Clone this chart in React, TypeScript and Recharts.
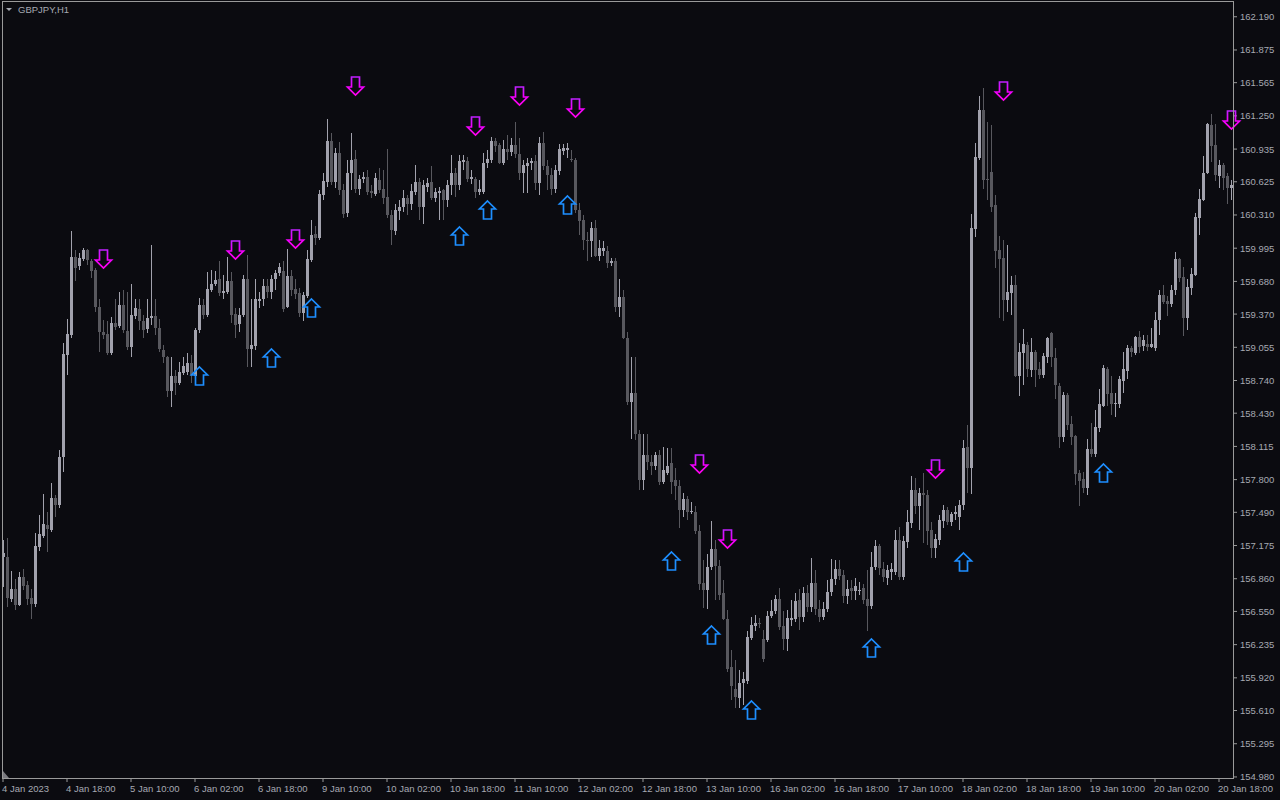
import React from 'react';
import { ComposedChart, Bar, Scatter, XAxis, YAxis } from 'recharts';

// GBPJPY H1, 4 Jan 02:00 -> 20 Jan 21:00 (308 bars)
const opens = [
  157.07, 157.07, 156.67, 156.76, 156.61, 156.88, 156.80, 156.68, 156.62, 157.16,
  157.27, 157.37, 157.32, 157.63, 157.56, 158.01, 158.98, 159.17, 159.91, 159.83,
  159.89, 159.98, 159.87, 159.79, 159.44, 159.20, 159.18, 159.00, 159.29, 159.26,
  159.46, 159.21, 159.06, 159.35, 159.42, 159.30, 159.23, 159.33, 159.35, 159.24,
  159.03, 158.96, 158.64, 158.78, 158.72, 158.81, 158.82, 158.91, 158.78, 159.22,
  159.46, 159.36, 159.60, 159.66, 159.70, 159.57, 159.58, 159.68, 159.37, 159.28,
  159.36, 159.70, 159.04, 159.07, 159.49, 159.51, 159.64, 159.58, 159.70, 159.76,
  159.78, 159.44, 159.73, 159.61, 159.57, 159.38, 159.54, 159.88, 160.13, 160.09,
  160.50, 160.62, 161.01, 160.62, 160.90, 160.55, 160.33, 160.71, 160.84, 160.56,
  160.65, 160.67, 160.54, 160.51, 160.64, 160.56, 160.48, 160.31, 160.16, 160.35,
  160.39, 160.47, 160.41, 160.53, 160.62, 160.39, 160.58, 160.62, 160.47, 160.52,
  160.55, 160.45, 160.59, 160.71, 160.59, 160.81, 160.82, 160.65, 160.65, 160.53,
  160.53, 160.80, 160.83, 161.01, 160.97, 160.80, 160.94, 160.91, 160.97, 160.89,
  160.71, 160.77, 160.80, 160.82, 160.61, 160.99, 160.77, 160.69, 160.56, 160.73,
  160.92, 160.93, 160.84, 160.83, 160.36, 160.26, 160.07, 160.06, 160.19, 159.92,
  159.97, 159.97, 159.85, 159.87, 159.44, 159.53, 159.14, 158.54, 158.62, 158.23,
  157.80, 158.03, 157.97, 157.93, 158.03, 157.78, 157.86, 157.96, 157.80, 157.74,
  157.51, 157.62, 157.49, 157.49, 157.31, 156.82, 156.75, 156.97, 157.14, 156.98,
  156.72, 156.48, 156.02, 155.81, 155.73, 155.87, 155.89, 156.30, 156.41, 156.44,
  156.29, 156.28, 156.51, 156.55, 156.67, 156.41, 156.29, 156.47, 156.48, 156.66,
  156.50, 156.72, 156.59, 156.82, 156.57, 156.50, 156.57, 156.73, 156.86, 156.95,
  156.90, 156.70, 156.77, 156.74, 156.74, 156.77, 156.67, 156.60, 156.97, 157.17,
  156.95, 156.87, 156.92, 156.92, 157.23, 156.88, 157.21, 157.39, 157.70, 157.55,
  157.67, 157.65, 157.32, 157.15, 157.23, 157.41, 157.51, 157.40, 157.47, 157.45,
  157.56, 158.11, 157.91, 160.18, 160.85, 161.31, 160.65, 160.72, 160.40, 159.98,
  159.90, 159.50, 159.57, 159.65, 158.78, 159.00, 159.08, 158.84, 159.01, 158.85,
  158.79, 158.96, 159.19, 158.95, 158.69, 158.20, 158.60, 158.33, 158.21, 157.86,
  157.81, 157.72, 158.09, 158.04, 158.29, 158.50, 158.85, 158.62, 158.52, 158.52,
  158.74, 158.83, 159.05, 159.00, 159.15, 159.07, 159.09, 159.06, 159.05, 159.31,
  159.55, 159.49, 159.47, 159.60, 159.89, 159.72, 159.33, 159.62, 159.74, 160.28,
  160.45, 160.71, 161.16, 160.97, 160.68, 160.78, 160.68, 160.57,
];

const closes = [
  157.10, 156.68, 156.76, 156.61, 156.88, 156.79, 156.67, 156.62, 157.17, 157.28,
  157.38, 157.33, 157.63, 157.56, 158.01, 158.99, 159.18, 159.91, 159.81, 159.90,
  159.98, 159.88, 159.78, 159.44, 159.20, 159.17, 159.00, 159.29, 159.25, 159.46,
  159.22, 159.06, 159.36, 159.43, 159.30, 159.22, 159.33, 159.35, 159.24, 159.04,
  158.96, 158.64, 158.78, 158.72, 158.82, 158.88, 158.91, 158.79, 159.22, 159.46,
  159.36, 159.61, 159.66, 159.69, 159.57, 159.59, 159.68, 159.36, 159.27, 159.36,
  159.70, 159.04, 159.08, 159.51, 159.51, 159.64, 159.58, 159.70, 159.76, 159.82,
  159.42, 159.73, 159.60, 159.56, 159.38, 159.55, 159.89, 160.12, 160.09, 160.51,
  160.63, 161.01, 160.62, 160.90, 160.55, 160.32, 160.71, 160.83, 160.56, 160.65,
  160.67, 160.53, 160.52, 160.66, 160.55, 160.47, 160.31, 160.17, 160.36, 160.39,
  160.47, 160.41, 160.54, 160.62, 160.39, 160.59, 160.61, 160.47, 160.53, 160.54,
  160.45, 160.59, 160.71, 160.59, 160.82, 160.83, 160.65, 160.67, 160.53, 160.56,
  160.80, 160.84, 161.01, 160.96, 160.80, 160.94, 160.91, 160.97, 160.89, 160.71,
  160.78, 160.80, 160.82, 160.61, 160.99, 160.77, 160.69, 160.56, 160.74, 160.94,
  160.95, 160.95, 160.83, 160.36, 160.25, 160.07, 160.06, 160.19, 159.92, 160.00,
  160.00, 159.85, 159.87, 159.44, 159.53, 159.14, 158.54, 158.62, 158.23, 157.80,
  158.03, 157.97, 157.93, 158.03, 157.78, 157.89, 157.93, 157.78, 157.74, 157.51,
  157.62, 157.49, 157.50, 157.31, 156.81, 156.75, 156.97, 157.14, 156.98, 156.71,
  156.48, 156.00, 155.84, 155.74, 155.87, 155.91, 156.31, 156.42, 156.44, 156.43,
  156.10, 156.51, 156.55, 156.67, 156.40, 156.29, 156.49, 156.49, 156.65, 156.50,
  156.72, 156.59, 156.82, 156.57, 156.50, 156.57, 156.73, 156.86, 156.95, 156.89,
  156.70, 156.76, 156.74, 156.79, 156.75, 156.66, 156.60, 156.97, 157.17, 156.96,
  156.88, 156.94, 156.95, 157.23, 156.88, 157.22, 157.40, 157.70, 157.55, 157.67,
  157.65, 157.31, 157.15, 157.24, 157.42, 157.51, 157.40, 157.47, 157.49, 157.56,
  158.10, 157.91, 160.19, 160.86, 161.31, 160.64, 160.64, 160.39, 159.97, 159.89,
  159.50, 159.58, 159.65, 158.78, 159.01, 159.09, 158.85, 159.01, 158.84, 158.79,
  158.97, 159.14, 158.96, 158.70, 158.20, 158.60, 158.32, 158.20, 157.85, 157.79,
  157.72, 158.09, 158.04, 158.30, 158.52, 158.86, 158.61, 158.52, 158.53, 158.75,
  158.85, 159.05, 159.01, 159.15, 159.06, 159.12, 159.06, 159.09, 159.31, 159.55,
  159.48, 159.47, 159.60, 159.89, 159.71, 159.33, 159.63, 159.75, 160.29, 160.46,
  160.71, 161.17, 160.96, 160.69, 160.78, 160.66, 160.57, 160.59,
];

const highs = [
  157.23, 157.25, 156.93, 156.86, 156.92, 156.95, 156.84, 156.76, 157.29, 157.46,
  157.66, 157.49, 157.77, 157.65, 158.08, 159.10, 159.32, 160.16, 159.98, 159.95,
  160.00, 159.99, 159.89, 159.81, 159.51, 159.31, 159.30, 159.34, 159.51, 159.58,
  159.60, 159.58, 159.66, 159.51, 159.51, 159.36, 159.51, 160.03, 159.51, 159.32,
  159.08, 158.97, 158.96, 158.84, 158.92, 158.96, 159.00, 158.98, 159.24, 159.52,
  159.51, 159.77, 159.79, 159.78, 159.87, 159.74, 159.91, 159.77, 159.43, 159.43,
  159.74, 159.93, 159.51, 159.70, 159.58, 159.70, 159.70, 159.74, 159.79, 159.85,
  159.87, 159.99, 159.79, 159.70, 159.62, 159.58, 159.98, 160.26, 160.21, 160.55,
  160.71, 161.22, 161.09, 160.95, 161.00, 160.60, 160.83, 161.09, 160.93, 160.69,
  160.72, 160.74, 160.59, 160.71, 160.76, 160.74, 160.94, 160.36, 160.41, 160.45,
  160.55, 160.50, 160.60, 160.78, 160.66, 160.64, 160.66, 160.77, 160.57, 160.58,
  160.56, 160.64, 160.88, 160.76, 160.88, 160.88, 160.86, 160.74, 160.67, 160.64,
  160.90, 160.93, 161.05, 161.04, 160.99, 161.02, 161.07, 161.04, 161.19, 161.04,
  160.83, 160.85, 160.85, 160.88, 161.05, 161.10, 160.83, 160.76, 160.78, 160.98,
  160.98, 160.99, 160.93, 160.85, 160.42, 160.31, 160.15, 160.24, 160.26, 160.07,
  160.06, 160.02, 159.90, 159.90, 159.70, 159.60, 159.20, 158.96, 158.96, 158.27,
  158.23, 158.23, 158.03, 158.06, 158.08, 158.11, 158.10, 158.10, 157.91, 157.80,
  157.67, 157.64, 157.59, 157.55, 157.37, 157.04, 157.09, 157.41, 157.23, 157.04,
  156.85, 156.56, 156.18, 156.09, 155.99, 155.98, 156.36, 156.50, 156.52, 156.49,
  156.37, 156.55, 156.66, 156.71, 156.77, 156.55, 156.56, 156.66, 156.72, 156.76,
  156.78, 156.80, 157.06, 156.94, 156.66, 156.64, 156.85, 157.05, 157.04, 157.04,
  156.94, 156.85, 156.85, 156.87, 156.83, 156.81, 156.94, 157.11, 157.23, 157.19,
  157.02, 156.99, 157.01, 157.32, 157.35, 157.27, 157.51, 157.83, 157.82, 157.72,
  157.86, 157.70, 157.40, 157.28, 157.46, 157.56, 157.54, 157.49, 157.55, 157.61,
  158.18, 158.32, 160.32, 160.99, 161.44, 161.51, 161.19, 161.16, 160.50, 160.11,
  160.07, 160.03, 159.73, 159.74, 159.10, 159.23, 159.11, 159.14, 159.03, 158.92,
  159.00, 159.15, 159.20, 159.05, 158.72, 158.63, 158.62, 158.40, 158.22, 157.89,
  157.87, 158.19, 158.34, 158.46, 158.66, 158.89, 158.87, 158.78, 158.62, 158.78,
  159.01, 159.08, 159.07, 159.16, 159.21, 159.17, 159.17, 159.24, 159.39, 159.60,
  159.65, 159.54, 159.65, 159.96, 159.90, 159.82, 159.70, 159.81, 160.33, 160.56,
  160.87, 161.18, 161.27, 161.17, 160.83, 160.80, 160.71, 160.64,
];

const lows = [
  156.78, 156.59, 156.64, 156.56, 156.60, 156.75, 156.61, 156.48, 156.59, 157.12,
  157.25, 157.11, 157.30, 157.45, 157.53, 157.87, 158.79, 159.14, 159.68, 159.79,
  159.87, 159.84, 159.71, 159.39, 159.01, 159.13, 158.98, 158.98, 159.22, 159.24,
  159.19, 159.03, 158.96, 159.32, 159.22, 159.14, 159.19, 159.27, 159.17, 159.01,
  158.91, 158.58, 158.49, 158.60, 158.70, 158.79, 158.79, 158.72, 158.75, 159.19,
  159.32, 159.34, 159.58, 159.64, 159.54, 159.51, 159.56, 159.29, 159.14, 159.20,
  159.34, 158.87, 158.87, 159.03, 159.43, 159.45, 159.52, 159.51, 159.60, 159.73,
  159.39, 159.43, 159.54, 159.51, 159.34, 159.30, 159.52, 159.86, 160.03, 160.07,
  160.45, 160.58, 160.59, 160.57, 160.50, 160.28, 160.29, 160.55, 160.52, 160.50,
  160.61, 160.50, 160.47, 160.49, 160.52, 160.41, 160.28, 160.03, 160.12, 160.26,
  160.34, 160.31, 160.36, 160.50, 160.26, 160.22, 160.53, 160.45, 160.43, 160.26,
  160.26, 160.39, 160.50, 160.48, 160.55, 160.74, 160.62, 160.60, 160.47, 160.50,
  160.51, 160.76, 160.80, 160.91, 160.79, 160.78, 160.83, 160.87, 160.85, 160.64,
  160.52, 160.52, 160.74, 160.55, 160.50, 160.74, 160.55, 160.50, 160.52, 160.69,
  160.88, 160.85, 160.81, 160.33, 160.12, 159.98, 159.87, 159.91, 159.91, 159.87,
  159.92, 159.81, 159.83, 159.39, 159.34, 159.13, 158.51, 158.19, 158.18, 157.70,
  157.70, 157.89, 157.84, 157.89, 157.75, 157.76, 157.84, 157.66, 157.61, 157.34,
  157.45, 157.42, 157.47, 157.28, 156.75, 156.58, 156.57, 156.94, 156.66, 156.66,
  156.47, 155.98, 155.71, 155.63, 155.63, 155.66, 155.86, 156.28, 156.36, 156.39,
  156.07, 156.26, 156.49, 156.53, 156.37, 156.18, 156.17, 156.41, 156.45, 156.37,
  156.45, 156.54, 156.54, 156.52, 156.45, 156.47, 156.54, 156.70, 156.80, 156.85,
  156.63, 156.62, 156.66, 156.66, 156.71, 156.62, 156.36, 156.57, 156.94, 156.90,
  156.83, 156.80, 156.85, 156.90, 156.85, 156.85, 157.15, 157.34, 157.47, 157.32,
  157.20, 157.18, 157.06, 157.06, 157.18, 157.34, 157.37, 157.36, 157.42, 157.32,
  157.51, 157.67, 157.66, 160.10, 160.83, 160.56, 160.45, 160.34, 159.81, 159.33,
  159.30, 159.39, 159.36, 158.77, 158.59, 158.70, 158.77, 158.77, 158.68, 158.75,
  158.76, 158.91, 158.87, 158.56, 158.10, 158.16, 158.27, 158.13, 157.75, 157.55,
  157.67, 157.65, 158.01, 158.01, 158.25, 158.49, 158.50, 158.41, 158.39, 158.48,
  158.62, 158.75, 158.96, 158.98, 159.00, 159.02, 159.02, 159.05, 159.02, 159.17,
  159.47, 159.35, 159.44, 159.55, 159.67, 159.16, 159.22, 159.55, 159.73, 160.12,
  160.44, 160.70, 160.81, 160.63, 160.57, 160.55, 160.41, 160.45,
];

const tickBars = [0, 16, 32, 48, 64, 80, 96, 112, 128, 144, 160, 176, 192, 208, 224, 240, 256, 272, 288, 304];
const timeLabels = [
  '4 Jan 2023', '4 Jan 18:00', '5 Jan 10:00', '6 Jan 02:00', '6 Jan 18:00',
  '9 Jan 10:00', '10 Jan 02:00', '10 Jan 18:00', '11 Jan 10:00', '12 Jan 02:00',
  '12 Jan 18:00', '13 Jan 10:00', '16 Jan 02:00', '16 Jan 18:00', '17 Jan 10:00',
  '18 Jan 02:00', '18 Jan 18:00', '19 Jan 10:00', '20 Jan 02:00', '20 Jan 18:00',
];
const priceTicks = [
  154.98, 155.295, 155.61, 155.92, 156.235, 156.55, 156.86, 157.175, 157.49, 157.8,
  158.115, 158.43, 158.74, 159.055, 159.37, 159.68, 159.995, 160.31, 160.625, 160.935,
  161.25, 161.565, 161.875, 162.19,
];

// signal arrows: bar index + tip price
const downArrowBars = [25, 58, 73, 88, 118, 129, 143, 174, 181, 233, 250, 307];
const downArrowPrices = [159.81, 159.89, 160.0, 161.45, 161.07, 161.35, 161.24, 157.86, 157.15, 157.82, 161.4, 161.13];
const upArrowBars = [49, 67, 77, 114, 121, 141, 167, 177, 187, 217, 240, 275];
const upArrowPrices = [158.87, 159.04, 159.51, 160.2, 160.44, 160.49, 157.11, 156.41, 155.7, 156.29, 157.1, 157.95];

const BG = '#0b0b10';
const BULL = '#a2a2ad';
const BEAR = '#58585e';
const AXIS = '#9a9a9a';
const TEXT = '#a6a9b2';
const FONT = '"Liberation Sans", Arial, sans-serif';

const data = closes.map((close, i) => {
  const d = downArrowBars.indexOf(i);
  const u = upArrowBars.indexOf(i);
  return {
    i,
    open: opens[i],
    high: highs[i],
    low: lows[i],
    close,
    range: [lows[i], highs[i]],
    down: d >= 0 ? downArrowPrices[d] : null,
    up: u >= 0 ? upArrowPrices[u] : null,
  };
});

const Candle = (props: any) => {
  const { x, y, width, height, payload } = props;
  if (x == null || y == null || !payload) return <g />;
  const top = Math.min(y, y + height);
  const h = Math.abs(height);
  const { open, close, high, low } = payload;
  const span = high - low || 1;
  const py = (v: number) => top + ((high - v) / span) * h;
  const color = close >= open ? BULL : BEAR;
  const col = Math.floor(x + width / 2);
  const bTop = py(Math.max(open, close));
  const bBot = py(Math.min(open, close));
  return (
    <g shapeRendering="crispEdges">
      <rect x={col} y={top} width={1} height={Math.max(h, 1)} fill={color} />
      <rect x={col - 1} y={bTop} width={3} height={Math.max(bBot - bTop, 1)} fill={color} />
    </g>
  );
};

const DownArrow = (props: any) => {
  const { cx, cy, payload } = props;
  if (!payload || payload.down == null || cx == null || cy == null || isNaN(cy)) return <g />;
  const x = Math.floor(cx) + 0.5;
  const y = Math.round(cy);
  const pts = [
    [x - 4, y - 18], [x + 4, y - 18], [x + 4, y - 8], [x + 8, y - 8],
    [x, y], [x - 8, y - 8], [x - 4, y - 8],
  ].map((p) => p.join(',')).join(' ');
  return <polygon points={pts} fill="none" stroke="url(#downGrad)" strokeWidth={1.7} strokeLinejoin="miter" />;
};

const UpArrow = (props: any) => {
  const { cx, cy, payload } = props;
  if (!payload || payload.up == null || cx == null || cy == null || isNaN(cy)) return <g />;
  const x = Math.floor(cx) + 0.5;
  const y = Math.round(cy);
  const pts = [
    [x, y], [x + 8, y + 8], [x + 4, y + 8], [x + 4, y + 18],
    [x - 4, y + 18], [x - 4, y + 8], [x - 8, y + 8],
  ].map((p) => p.join(',')).join(' ');
  return <polygon points={pts} fill="none" stroke="#1e8fff" strokeWidth={1.7} strokeLinejoin="miter" />;
};

const TimeTick = (props: any) => {
  const { x, y, payload } = props;
  const k = tickBars.indexOf(payload.value);
  return (
    <text x={x - 1} y={y + 8} fill={TEXT} fontSize={9.5} fontFamily={FONT} textAnchor="start">
      {k >= 0 ? timeLabels[k] : ''}
    </text>
  );
};

const PriceTick = (props: any) => {
  const { x, y, payload } = props;
  return (
    <text x={x + 1} y={y + 3.5} fill={TEXT} fontSize={9.5} fontFamily={FONT} textAnchor="start">
      {Number(payload.value).toFixed(3)}
    </text>
  );
};

export default function App() {
  return (
    <div style={{ position: 'fixed', left: 0, top: 0, width: 1280, height: 800, background: BG, overflow: 'hidden', fontFamily: FONT }}>
      <svg width={0} height={0} style={{ position: 'absolute' }}>
        <defs>
          <linearGradient id="downGrad" x1="0" y1="0" x2="0" y2="1">
            <stop offset="0%" stopColor="#c020ff" />
            <stop offset="50%" stopColor="#f000ff" />
            <stop offset="100%" stopColor="#ff00ee" />
          </linearGradient>
        </defs>
      </svg>
      <ComposedChart
        width={1280}
        height={800}
        data={data}
        margin={{ top: 2, right: 0, bottom: 0, left: 1 }}
        barCategoryGap={0}
        style={{ position: 'absolute', left: 0, top: 0 }}
      >
        <XAxis
          dataKey="i"
          type="category"
          ticks={tickBars}
          interval={0}
          axisLine={false}
          tickLine={{ stroke: AXIS }}
          tickSize={4}
          height={22}
          tick={<TimeTick />}
        />
        <YAxis
          orientation="right"
          type="number"
          domain={[154.97, 162.33]}
          allowDataOverflow
          ticks={priceTicks}
          interval={0}
          axisLine={false}
          tickLine={{ stroke: AXIS }}
          tickSize={4}
          width={47}
          tick={<PriceTick />}
        />
        <Bar dataKey="range" shape={Candle} isAnimationActive={false} />
        <Scatter dataKey="down" shape={DownArrow} isAnimationActive={false} />
        <Scatter dataKey="up" shape={UpArrow} isAnimationActive={false} />
      </ComposedChart>
      {/* chart frame */}
      <div
        style={{
          position: 'absolute', left: 2, top: 1, width: 1232, height: 778,
          boxSizing: 'border-box', border: `1px solid ${AXIS}`, pointerEvents: 'none',
        }}
      />
      {/* shift marker */}
      <svg width={10} height={10} style={{ position: 'absolute', left: 2, top: 770 }}>
        <polygon points="1,1 1,8 7,8" fill="#7a7a80" />
      </svg>
      {/* symbol header */}
      <svg width={120} height={18} style={{ position: 'absolute', left: 0, top: 0 }}>
        <polygon points="6,8 12,8 9,11" fill={TEXT} />
        <text x={18} y={13} fill={TEXT} fontSize={9.5} fontFamily={FONT}>GBPJPY,H1</text>
      </svg>
    </div>
  );
}
